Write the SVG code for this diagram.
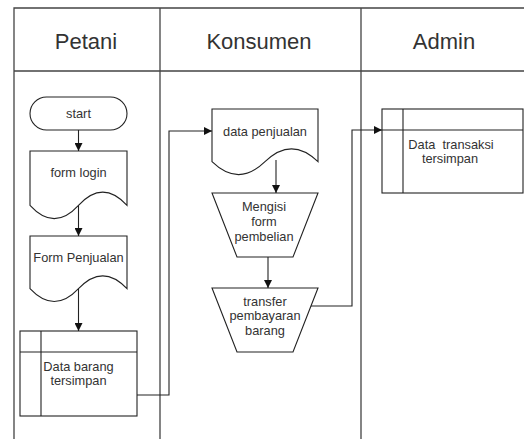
<svg xmlns="http://www.w3.org/2000/svg" width="524" height="439" viewBox="0 0 524 439">
<style>
.lane{fill:none;stroke:#444;stroke-width:1.3}
.shape{fill:#fff;stroke:#222;stroke-width:1.1}
.ln{fill:none;stroke:#222;stroke-width:1.1}
.hd{font-family:"Liberation Sans",Arial,sans-serif;font-size:22px;fill:#333;text-anchor:middle}
.tx{font-family:"Liberation Sans",Arial,sans-serif;font-size:12.8px;fill:#333;text-anchor:middle;white-space:pre}
</style>
<defs>
<marker id="arr" viewBox="0 0 10 10" refX="10" refY="5" markerWidth="8" markerHeight="8" markerUnits="userSpaceOnUse" orient="auto">
<path d="M0,0 L10,5 L0,10 Z" fill="#111"/>
</marker>
</defs>
<rect width="524" height="439" fill="#fff"/>
<g id="pool">
<path class="lane" d="M14,439 V8 H530 M14,71 H530 M160,8 V439 M361,8 V439"/>
<text class="hd" x="86" y="49">Petani</text>
<text class="hd" x="259" y="49">Konsumen</text>
<text class="hd" x="444" y="49">Admin</text>
</g>
<g id="start">
<rect class="shape" x="30" y="97" width="97" height="33" rx="16.5"/>
<text class="tx" x="78.5" y="118">start</text>
</g>
<g id="form-login">
<path class="shape" d="M30,151 H127 V205.4 Q102.75,178.9 78.5,205.4 Q54.25,231.9 30,205.4 Z"/>
<text class="tx" x="78.5" y="177">form login</text>
</g>
<g id="form-penjualan">
<path class="shape" d="M30,236 H127 V288.7 Q102.75,262.96 78.5,288.7 Q54.25,314.44 30,288.7 Z"/>
<text class="tx" x="78.5" y="262">Form Penjualan</text>
</g>
<g id="data-barang">
<rect class="shape" x="20" y="331" width="117" height="85"/>
<path class="ln" d="M20,352 H137 M41,331 V416"/>
<text class="tx" x="78.5" y="371">Data barang</text>
<text class="tx" x="78.5" y="385">tersimpan</text>
</g>
<g id="data-penjualan">
<path class="shape" d="M212,109 H318 V161.7 Q291.5,135.96 265,161.7 Q238.5,187.44 212,161.7 Z"/>
<text class="tx" x="265" y="136">data penjualan</text>
</g>
<g id="mengisi-form">
<polygon class="shape" points="212,193 318,193 293,257 237,257"/>
<text class="tx" x="264" y="211">Mengisi</text>
<text class="tx" x="264" y="226">form</text>
<text class="tx" x="264" y="241">pembelian</text>
</g>
<g id="transfer">
<polygon class="shape" points="212,288 318,288 293,352 237,352"/>
<text class="tx" x="265" y="306">transfer</text>
<text class="tx" x="265" y="320">pembayaran</text>
<text class="tx" x="265" y="335">barang</text>
</g>
<g id="data-transaksi">
<rect class="shape" x="382" y="109" width="141" height="84"/>
<path class="ln" d="M382,130 H523 M403,109 V193"/>
<text class="tx" x="451" y="149">Data  transaksi</text>
<text class="tx" x="450" y="163">tersimpan</text>
</g>
<g id="connectors">
<path class="ln" d="M78.5,130 V151" marker-end="url(#arr)"/>
<path class="ln" d="M78.5,205.4 V236" marker-end="url(#arr)"/>
<path class="ln" d="M78.5,288.7 V331" marker-end="url(#arr)"/>
<path class="ln" d="M137,395 H169 V131 H212" marker-end="url(#arr)"/>
<path class="ln" d="M276,160 V193" marker-end="url(#arr)"/>
<path class="ln" d="M268,257 V288" marker-end="url(#arr)"/>
<path class="ln" d="M311,306 H352 V130 H382" marker-end="url(#arr)"/>
</g>
</svg>
